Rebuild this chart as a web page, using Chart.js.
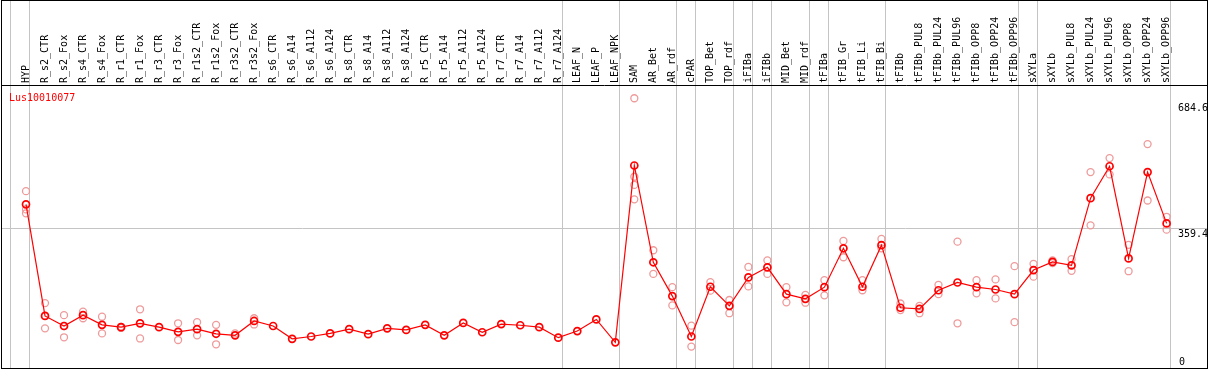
<!DOCTYPE html>
<html><head><meta charset="utf-8">
<script src="https://cdn.jsdelivr.net/npm/chart.js@4"></script>
<style>html,body{margin:0;padding:0;background:#fff}canvas{display:block}</style>
</head><body>
<canvas id="c" width="1209" height="370"></canvas>
<script>
const geneName = 'Lus10010077';
const categories = ['HYP','R_s2_CTR','R_s2_Fox','R_s4_CTR','R_s4_Fox','R_r1_CTR','R_r1_Fox','R_r3_CTR','R_r3_Fox',
  'R_r1s2_CTR','R_r1s2_Fox','R_r3s2_CTR','R_r3s2_Fox','R_s6_CTR','R_s6_A14','R_s6_A112','R_s6_A124',
  'R_s8_CTR','R_s8_A14','R_s8_A112','R_s8_A124','R_r5_CTR','R_r5_A14','R_r5_A112','R_r5_A124',
  'R_r7_CTR','R_r7_A14','R_r7_A112','R_r7_A124','LEAF_N','LEAF_P','LEAF_NPK','SAM','AR_Bet','AR_rdf',
  'cPAR','TOP_Bet','TOP_rdf','iFIBa','iFIBb','MID_Bet','MID_rdf','tFIBa','tFIB_Gr','tFIB_Li','tFIB_Bi',
  'tFIBb','tFIBb_PUL8','tFIBb_PUL24','tFIBb_PUL96','tFIBb_OPP8','tFIBb_OPP24','tFIBb_OPP96',
  'sXYLa','sXYLb','sXYLb_PUL8','sXYLb_PUL24','sXYLb_PUL96','sXYLb_OPP8','sXYLb_OPP24','sXYLb_OPP96'];
const meanValues = [421,134,108,136,111,105,115,105,93,100,88,84,121,108,75,81,89,100,87,102,98,111,84,116,92,
  113,110,105,78,95,125,66,521,272,185,81,209,160,233,259,190,178,208,308,209,316,
  155,152,200,220,208,202,190,252,273,264,437,519,282,504,372];
const rep1 = [455,167,136,145,132,106,151,null,115,118,111,89,128,null,null,null,null,null,null,null,null,null,null,null,null,
  null,null,null,null,null,null,null,694,303,208,109,221,175,260,277,208,188,226,327,226,332,
  166,160,214,325,226,228,262,268,277,280,504,540,317,576,389];
const rep2 = [398,102,79,128,89,103,76,null,72,84,61,null,112,null,null,null,null,null,null,null,null,null,null,null,null,
  null,null,null,null,null,null,null,434,242,161,55,199,141,210,242,169,168,187,285,200,308,
  149,141,190,115,192,179,118,235,270,250,367,498,249,431,356];
const rep3 = [408,134,108,null,null,null,null,null,null,null,null,null,null,null,null,null,null,null,null,null,null,null,null,null,null,
  null,null,null,null,null,null,null,492,null,null,null,null,null,null,null,null,null,null,null,null,null,
  null,null,null,null,null,null,null,null,null,null,null,null,null,null,null];
const rep4 = [null,null,null,null,null,null,null,null,null,null,null,null,null,null,null,null,null,null,null,null,null,null,null,null,null,
  null,null,null,null,null,null,null,471,null,null,null,null,null,null,null,null,null,null,null,null,null,
  null,null,null,null,null,null,null,null,null,null,null,null,null,null,null];
const yTickValues = [0, 359.4, 684.6];
const yTickLabels = ['0', '359.4', '684.6'];
const groupLastIndex = [-1, 0, 28, 31, 34, 35, 37, 38, 39, 41, 42, 45, 52, 53, 60];

const X_MIN = -1.315, X_MAX = 62.125, Y_MAX = 728.1, BOUNDARY_OFFSET = 0.21;
const FONT = '"DejaVu Sans Mono", "Liberation Mono", monospace';

const meanPoints = meanValues.map((v, i) => ({x: i, y: v}));
const repPoints = [];
[rep1, rep2, rep3, rep4].forEach(arr => arr.forEach((v, i) => { if (v !== null) repPoints.push({x: i, y: v}); }));

const noPad = s => { s.paddingLeft = 0; s.paddingRight = 0; s.paddingTop = 0; s.paddingBottom = 0; };

const decor = {
  id: 'decor',
  afterDraw(chart) {
    const ctx = chart.ctx, ys = chart.scales.y, ca = chart.chartArea;
    ctx.save();
    ctx.font = '10px ' + FONT;
    ctx.fillStyle = '#000';
    ctx.textAlign = 'left';
    yTickValues.forEach((v, i) => {
      const py = ys.getPixelForValue(v);
      if (v === 0) { ctx.textBaseline = 'bottom'; ctx.fillText(yTickLabels[i], ca.right - 28, py - 1); }
      else { ctx.textBaseline = 'top'; ctx.fillText(yTickLabels[i], ca.right - 29, py + 1); }
    });
    ctx.fillStyle = '#ff0000';
    ctx.textBaseline = 'middle';
    ctx.fillText(geneName, ca.left + 8, ca.top + 13);
    ctx.strokeStyle = '#000'; ctx.lineWidth = 1;
    ctx.strokeRect(1.5, 0.5, 1206, 368);
    ctx.restore();
  }
};

new Chart(document.getElementById('c'), {
  type: 'line',
  data: {
    datasets: [
      {
        label: geneName, data: meanPoints, order: 0,
        borderColor: '#ff0000', borderWidth: 1.2, fill: false, tension: 0,
        pointRadius: 3.5, pointStyle: 'circle', pointBorderColor: '#ff0000',
        pointBackgroundColor: 'rgba(0,0,0,0)', pointBorderWidth: 1.7
      },
      {
        type: 'scatter', label: 'replicates', data: repPoints, order: 1, showLine: false,
        pointRadius: 3.5, pointStyle: 'circle', pointBorderColor: '#ee9a9a',
        pointBackgroundColor: 'rgba(0,0,0,0)', pointBorderWidth: 1.3
      }
    ]
  },
  options: {
    responsive: false, animation: false, devicePixelRatio: 1,
    layout: {autoPadding: false, padding: {left: 1, right: 2, top: 0, bottom: 2}},
    plugins: {legend: {display: false}, tooltip: {enabled: false}, title: {display: false}},
    scales: {
      x: {
        type: 'linear', position: 'top', weight: 0, min: X_MIN, max: X_MAX,
        afterBuildTicks: s => { s.ticks = groupLastIndex.map(i => ({value: i + BOUNDARY_OFFSET})); },
        afterFit: s => { s.height = 0; noPad(s); },
        ticks: {display: false},
        grid: {display: true, color: '#c4c4c4', lineWidth: 1, drawTicks: true, tickLength: 85, tickColor: '#c4c4c4'},
        border: {display: false}
      },
      x2: {
        type: 'linear', position: 'top', weight: 1, min: X_MIN, max: X_MAX,
        afterBuildTicks: s => { s.ticks = categories.map((c, i) => ({value: i})); },
        afterFit: s => { s.height = 85; noPad(s); },
        ticks: {
          autoSkip: false, minRotation: 90, maxRotation: 90, padding: 2, color: '#000',
          labelOffset: 12,
          font: {family: FONT, size: 10},
          callback: v => categories[v]
        },
        grid: {display: false, drawTicks: false},
        border: {display: true, color: '#000', width: 1}
      },
      y: {
        type: 'linear', position: 'right', min: 0, max: Y_MAX,
        afterBuildTicks: s => { s.ticks = yTickValues.map(v => ({value: v})); },
        afterFit: s => { s.width = 0; noPad(s); },
        ticks: {display: false},
        grid: {display: true, drawTicks: false, lineWidth: 1,
          color: c => (c.tick && c.tick.value === 359.4) ? '#c4c4c4' : 'rgba(0,0,0,0)'},
        border: {display: false}
      }
    }
  },
  plugins: [decor]
});
</script>
</body></html>
